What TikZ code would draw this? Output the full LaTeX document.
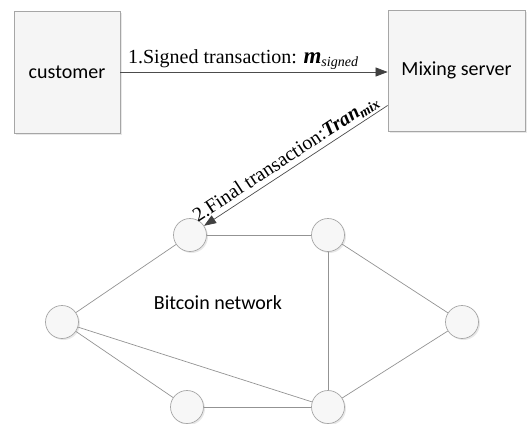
\documentclass[tikz,border=0pt]{standalone}
\usepackage{fontspec}
\setmainfont{Liberation Serif}
\newfontfamily\calibfont{Carlito}
\usetikzlibrary{arrows.meta,shadows,calc}

\begin{document}
\begin{tikzpicture}[x=1pt, y=-1pt,
    >={Triangle[length=12pt,width=9pt,color=black!75]},
    hostbox/.style={draw=gray!70, fill=gray!8, line width=0.8pt,
      font=\calibfont\fontsize{20}{24}\selectfont,
      drop shadow={opacity=0.18, shadow xshift=2pt, shadow yshift=-2pt}},
    peer/.style={circle, draw=gray!70, fill=gray!6, minimum size=33pt,
      inner sep=0pt, line width=0.7pt,
      drop shadow={opacity=0.18, shadow xshift=1.5pt, shadow yshift=-1.5pt}},
    link/.style={draw=gray!85, line width=0.7pt},
    msg/.style={->, draw=gray!60!black, line width=0.7pt},
    msglabel/.style={font=\fontsize{20}{24}\selectfont, inner sep=2.5pt}]
    \useasboundingbox (0,0) rectangle (532,423);

    % customer and mixing server
    \node[hostbox, minimum width=106pt, minimum height=122pt] (cust) at (67,72) {customer};
    \node[hostbox, minimum width=137pt, minimum height=121pt] (srv) at (456.5,70.5) {Mixing server};

    % bitcoin network peers
    \node[peer] (pA) at (190,235) {};
    \node[peer] (pB) at (328,235) {};
    \node[peer] (pC) at (62,322) {};
    \node[peer] (pD) at (462,322) {};
    \node[peer] (pE) at (187,407) {};
    \node[peer] (pF) at (328,407) {};
    \node[font=\calibfont\fontsize{20}{24}\selectfont] (net) at (218,303) {Bitcoin network};

    \draw[link] (pA) -- (pB);
    \draw[link] (pA) -- (pC);
    \draw[link] (pB) -- (pF);
    \draw[link] (pB) -- (pD);
    \draw[link] (pC) -- (pF);
    \draw[link] (pC) -- (pE);
    \draw[link] (pE) -- (pF);
    \draw[link] (pD) -- (pF);

    % messages
    \draw[msg] (cust.east) -- node[msglabel, above, pos=0.46]
      {1.Signed transaction: {\fontsize{23}{24}\selectfont\textbf{\textit{m}}}\textsubscript{\textit{signed}}}
      (cust.east -| srv.west);
    \coordinate (out2) at ($(srv.west)+(0,35)$);
    \draw[msg] (out2) -- node[msglabel, sloped, above, pos=0.52]
      {2.Final transaction:\textbf{\textit{Tran}}\textsubscript{\textbf{\textit{mix}}}}
      (pA);
\end{tikzpicture}
\end{document}
